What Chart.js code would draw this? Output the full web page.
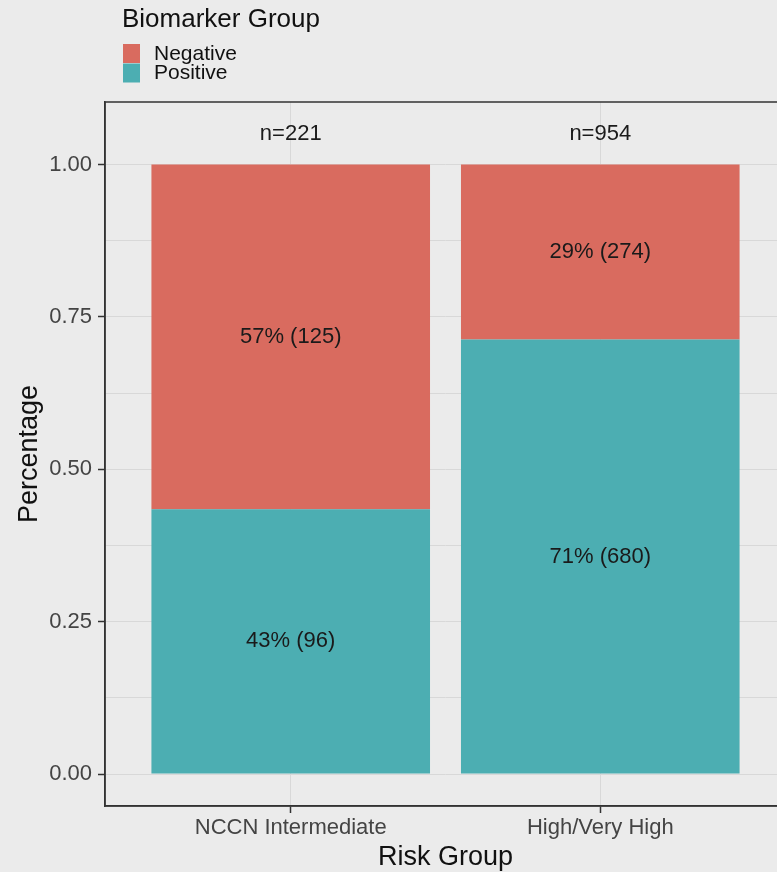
<!DOCTYPE html>
<html>
<head>
<meta charset="utf-8">
<script src="https://cdn.jsdelivr.net/npm/chart.js@4.4.1/dist/chart.umd.min.js"></script>
<style>
  html, body { margin: 0; padding: 0; background: #ebebeb; overflow: hidden; }
  #wrap { width: 790px; height: 872px; position: relative; }
</style>
</head>
<body>
<div id="wrap"><canvas id="risk"></canvas></div>
<script>
// risk groups on the x axis
const riskGroups = ['NCCN Intermediate', 'High/Very High'];
// patient counts per biomarker result
const positiveCounts = [96, 680];
const negativeCounts = [125, 274];
const yTicks = [0, 0.125, 0.25, 0.375, 0.5, 0.625, 0.75, 0.875, 1];

const totals = riskGroups.map((g, i) => positiveCounts[i] + negativeCounts[i]);
const shareOf = (counts) => counts.map((c, i) => ({ x: i + 1, y: c / totals[i], count: c }));

const FONT = '"Liberation Sans", Arial, sans-serif';
const RED = '#d96b5f';
const TEAL = '#4caeb2';
const GRID = '#d8d8d8';
const AXIS = '#333333';

// text inside each segment plus the n= row above the bars
const segmentLabels = {
    id: 'segmentLabels',
    afterDatasetsDraw(chart) {
        const c = chart.ctx;
        c.save();
        c.font = '22px ' + FONT;
        c.fillStyle = '#1a1a1a';
        c.textAlign = 'center';
        c.textBaseline = 'middle';
        chart.data.datasets.forEach((ds, di) => {
            chart.getDatasetMeta(di).data.forEach((bar, i) => {
                const p = ds.data[i];
                const txt = Math.round(p.y * 100) + '% (' + p.count + ')';
                c.fillText(txt, bar.x, (bar.y + bar.base) / 2);
            });
        });
        const ys = chart.scales.y.getPixelForValue(1.05);
        totals.forEach((n, i) => {
            c.fillText('n=' + n, chart.scales.x.getPixelForValue(i + 1), ys);
        });
        c.restore();
    }
};

// dark frame round the plot panel
const panelBorder = {
    id: 'panelBorder',
    afterDraw(chart) {
        const a = chart.chartArea;
        const c = chart.ctx;
        c.save();
        c.strokeStyle = AXIS;
        c.lineWidth = 1.5;
        c.strokeRect(a.left, a.top, a.right - a.left, a.bottom - a.top);
        c.restore();
    }
};

// ggplot style legend, title on top and keys stacked
const sideLegend = {
    id: 'sideLegend',
    afterDraw(chart) {
        const c = chart.ctx;
        c.save();
        c.textBaseline = 'middle';
        c.textAlign = 'left';
        c.fillStyle = '#111';
        c.font = '26px ' + FONT;
        c.fillText('Biomarker Group', 122, 20);
        const keys = [['Negative', RED], ['Positive', TEAL]];
        c.font = '21px ' + FONT;
        keys.forEach((k, i) => {
            const top = 44 + i * 19.5;
            c.fillStyle = k[1];
            c.fillRect(123, top, 17, 19);
            c.fillStyle = '#111';
            c.fillText(k[0], 154, top + 10);
        });
        c.restore();
    }
};

const data = {
    datasets: [
        {
            label: 'Positive',
            data: shareOf(positiveCounts),
            backgroundColor: TEAL,
            barPercentage: 0.9,
            categoryPercentage: 1
        },
        {
            label: 'Negative',
            data: shareOf(negativeCounts),
            backgroundColor: RED,
            barPercentage: 0.9,
            categoryPercentage: 1
        }
    ]
};

const config = {
    type: 'bar',
    data: data,
    plugins: [segmentLabels, panelBorder, sideLegend],
    options: {
        responsive: true,
        maintainAspectRatio: false,
        animation: false,
        layout: { padding: { top: 102, left: 0, right: 4, bottom: 0 } },
        plugins: {
            legend: { display: false },
            tooltip: { enabled: false }
        },
        scales: {
            x: {
                type: 'linear',
                stacked: true,
                offset: false,
                min: 0.4,
                max: 2.6,
                afterBuildTicks(scale) {
                    scale.ticks = riskGroups.map((g, i) => ({ value: i + 1 }));
                },
                afterFit(scale) { scale.height = 66; },
                ticks: {
                    callback: (v) => riskGroups[v - 1],
                    color: '#444',
                    font: { family: FONT, size: 22 },
                    padding: 2,
                    maxRotation: 0
                },
                grid: {
                    offset: false,
                    color: GRID,
                    lineWidth: 1,
                    tickLength: 7,
                    tickColor: AXIS,
                    tickWidth: 1.5
                },
                border: { display: true, color: AXIS, width: 1.5 },
                title: {
                    display: true,
                    text: 'Risk Group',
                    color: '#111',
                    font: { family: FONT, size: 27, lineHeight: 1 },
                    padding: { top: 0, bottom: 0.5 }
                }
            },
            y: {
                stacked: true,
                min: -0.0525,
                max: 1.1025,
                afterBuildTicks(scale) {
                    scale.ticks = yTicks.map(v => ({ value: v }));
                },
                afterFit(scale) { scale.width = 105; },
                ticks: {
                    callback: (v) => (Math.round(v * 1000) % 250 === 0 ? v.toFixed(2) : ''),
                    color: '#444',
                    font: { family: FONT, size: 22 },
                    padding: 6
                },
                grid: {
                    color: GRID,
                    lineWidth: 1,
                    tickLength: 7,
                    tickWidth: 1.5,
                    tickColor: (ctx) => (Math.round(ctx.tick.value * 1000) % 250 === 0 ? AXIS : 'rgba(0,0,0,0)')
                },
                border: { display: true, color: AXIS, width: 1.5 },
                title: {
                    display: true,
                    text: 'Percentage',
                    color: '#111',
                    font: { family: FONT, size: 27, lineHeight: 1 },
                    padding: { top: 16.5, bottom: 0 }
                }
            }
        }
    }
};

new Chart(document.getElementById('risk').getContext('2d'), config);
</script>
</body>
</html>
